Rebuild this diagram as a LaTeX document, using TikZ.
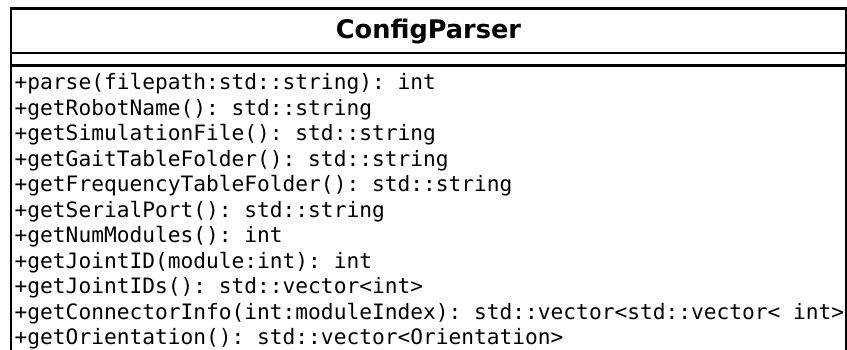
\documentclass[tikz,border=0pt]{standalone}
\usepackage{fontspec}
\setmainfont{DejaVu Sans}
\setmonofont{DejaVu Sans Mono}

\begin{document}
\begin{tikzpicture}[x=1pt,y=-1pt,
  classframe/.style={draw=black, line width=2.8pt},
  classname/.style={anchor=base, inner sep=0pt, font=\fontsize{25.6}{30}\selectfont\bfseries},
  member/.style={anchor=base west, inner sep=0pt, font=\fontsize{21.2}{25.5}\selectfont\ttfamily}]
\useasboundingbox (0,0) rectangle (847,349);
\clip (0,0) rectangle (847,349);

% class box with its name and empty attribute compartment
\draw[classframe] (11,8.5) rectangle (846.5,380);
\draw[classframe] (11,53) -- (847,53);
\draw[classframe] (11,65.7) -- (847,65.7);

\node[classname] (cls) at (428.5,38.3) {ConfigParser};

% operations
\node[member] (op1)  at (14.5,89.5)  {+parse(filepath:std::string): int};
\node[member] (op2)  at (14.5,115)   {+getRobotName(): std::string};
\node[member] (op3)  at (14.5,140.5) {+getSimulationFile(): std::string};
\node[member] (op4)  at (14.5,166)   {+getGaitTableFolder(): std::string};
\node[member] (op5)  at (14.5,191.5) {+getFrequencyTableFolder(): std::string};
\node[member] (op6)  at (14.5,217)   {+getSerialPort(): std::string};
\node[member] (op7)  at (14.5,242.5) {+getNumModules(): int};
\node[member] (op8)  at (14.5,268)   {+getJointID(module:int): int};
\node[member] (op9)  at (14.5,293.5) {+getJointIDs(): std::vector<int>};
\node[member] (op10) at (14.5,319)   {+getConnectorInfo(int:moduleIndex): std::vector<std::vector< int>};
\node[member] (op11) at (14.5,344.5) {+getOrientation(): std::vector<Orientation>};
\end{tikzpicture}
\end{document}
